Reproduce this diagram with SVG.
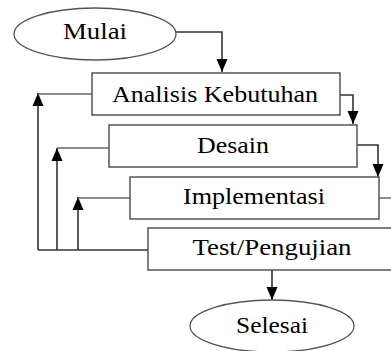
<svg xmlns="http://www.w3.org/2000/svg" width="391" height="351" viewBox="0 0 391 351">
<defs>
<marker id="arr" markerUnits="userSpaceOnUse" markerWidth="14" markerHeight="14" viewBox="0 0 14 14" refX="13" refY="7" orient="auto">
<path d="M0,1.5 L13,7 L0,12.5 Z" fill="#000"/>
</marker>
<style>
.box{fill:#fff;stroke:#555;stroke-width:1.5}
.ell{fill:#fff;stroke:#555;stroke-width:1.3}
.lbl{font-family:"Liberation Serif","Times New Roman",serif;font-size:23px;fill:#000;text-anchor:middle}
.ln{fill:none;stroke:#333;stroke-width:1.6}
.lg{fill:none;stroke:#666;stroke-width:1.5}
</style>
</defs>
<rect width="391" height="351" fill="#fff"/>
<g id="connectors">
<polyline class="ln" points="175,32 222,32 222,72" marker-end="url(#arr)"/>
<polyline class="ln" points="340,95 353,95 353,124" marker-end="url(#arr)"/>
<polyline class="ln" points="357,145 378,145 378,177" marker-end="url(#arr)"/>
<polyline class="lg" points="379,198 391,198"/>
<line class="ln" x1="272" y1="270" x2="272" y2="300" marker-end="url(#arr)"/>
<polyline class="ln" points="148,250 38,250"/>
<line class="ln" x1="38" y1="250" x2="38" y2="93" marker-end="url(#arr)"/>
<line class="ln" x1="57" y1="250" x2="57" y2="148" marker-end="url(#arr)"/>
<line class="ln" x1="78" y1="250" x2="78" y2="197" marker-end="url(#arr)"/>
<line class="lg" x1="38" y1="94" x2="92" y2="94"/>
<line class="lg" x1="57" y1="148" x2="109" y2="148"/>
<line class="lg" x1="78" y1="198" x2="130" y2="198"/>
</g>
<g id="mulai">
<ellipse class="ell" cx="95" cy="34" rx="81" ry="26"/>
<text class="lbl" x="95" y="39" textLength="64" lengthAdjust="spacingAndGlyphs">Mulai</text>
</g>
<g id="analisis">
<rect class="box" x="92" y="73" width="248" height="42"/>
<text class="lbl" x="215" y="102" textLength="206" lengthAdjust="spacingAndGlyphs">Analisis Kebutuhan</text>
</g>
<g id="desain">
<rect class="box" x="109" y="125" width="248" height="42"/>
<text class="lbl" x="233" y="153" textLength="72" lengthAdjust="spacingAndGlyphs">Desain</text>
</g>
<g id="implementasi">
<rect class="box" x="130" y="177" width="249" height="42"/>
<text class="lbl" x="254" y="204" textLength="142" lengthAdjust="spacingAndGlyphs">Implementasi</text>
</g>
<g id="test">
<rect class="box" x="148" y="228" width="250" height="42"/>
<text class="lbl" x="272" y="255" textLength="159" lengthAdjust="spacingAndGlyphs">Test/Pengujian</text>
</g>
<g id="selesai">
<ellipse class="ell" cx="272" cy="326" rx="82" ry="26"/>
<text class="lbl" x="272" y="333" textLength="72" lengthAdjust="spacingAndGlyphs">Selesai</text>
</g>
</svg>
